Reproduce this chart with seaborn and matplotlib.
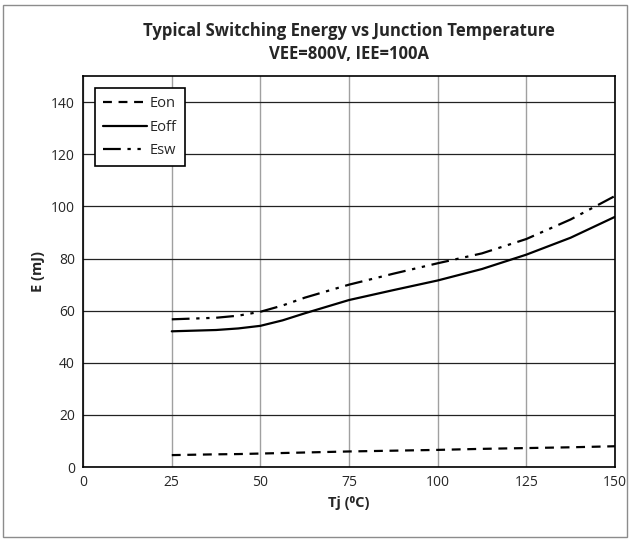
import matplotlib
matplotlib.use("Agg")
import matplotlib.pyplot as plt
import seaborn as sns
import pandas as pd

# Values
tj = [25, 37.5, 43.75, 50, 56.25, 62.5, 75, 87.5, 100, 112.5, 125, 137.5, 150]
eon = [4.6, 4.9, 5.0, 5.2, 5.4, 5.6, 6.0, 6.3, 6.6, 7.0, 7.3, 7.6, 8.0]
eoff = [52.1, 52.6, 53.2, 54.2, 56.3, 59.0, 64.1, 67.9, 71.6, 76.0, 81.5, 88.0, 96.0]
esw = [56.7, 57.3, 58.1, 59.6, 62.0, 65.0, 70.0, 74.2, 78.2, 82.0, 87.5, 95.0, 104.0]

df = pd.DataFrame({"Tj": tj, "Eon": eon, "Eoff": eoff, "Esw": esw})
long = df.melt(id_vars="Tj", var_name="curve", value_name="E")

sns.set_style("white")
plt.rcParams["font.family"] = ["Open Sans", "DejaVu Sans"]

fig = plt.figure(figsize=(6.3, 5.4), dpi=100)
ax = fig.add_axes([0.132, 0.135, 0.844, 0.724])

styles = {"Eon": (0, (4, 3)), "Eoff": "-", "Esw": (0, (8, 3, 1.5, 3, 1.5, 3))}
for name in ["Eon", "Eoff", "Esw"]:
    sub = long[long["curve"] == name]
    sns.lineplot(data=sub, x="Tj", y="E", ax=ax, color="black", lw=1.6,
                 linestyle=styles[name], label=name)

ax.set_xlim(0, 150)
ax.set_ylim(0, 150)
ax.set_xticks(range(0, 151, 25))
ax.set_yticks(range(0, 141, 20))
ax.grid(axis="x", color="#a0a0a0", lw=1)
ax.grid(axis="y", color="#222222", lw=0.9)
for s in ax.spines.values():
    s.set_color("black")
    s.set_linewidth(1.2)
ax.tick_params(labelsize=10, length=0, pad=6)

ax.set_xlabel("Tj (\u2070C)", fontsize=10.5, fontweight="bold")
ax.set_ylabel("E (mJ)", fontsize=10.5, fontweight="bold")
ax.set_title("Typical Switching Energy vs Junction Temperature\nVEE=800V, IEE=100A",
             fontsize=12, fontweight="bold", pad=12, linespacing=1.4)

leg = ax.legend(loc="upper left", bbox_to_anchor=(0.022, 0.97), frameon=True,
                fancybox=False, edgecolor="black", framealpha=1, fontsize=10.5,
                handlelength=3.0, handletextpad=0.2, borderpad=0.55,
                labelspacing=0.6, borderaxespad=0)
leg.get_frame().set_linewidth(1.2)

fig.patches.append(plt.Rectangle((0.005, 0.005), 0.99, 0.985, transform=fig.transFigure,
                                 fill=False, edgecolor="#8c8c8c", lw=1))

fig.savefig("out.png", dpi=100)
